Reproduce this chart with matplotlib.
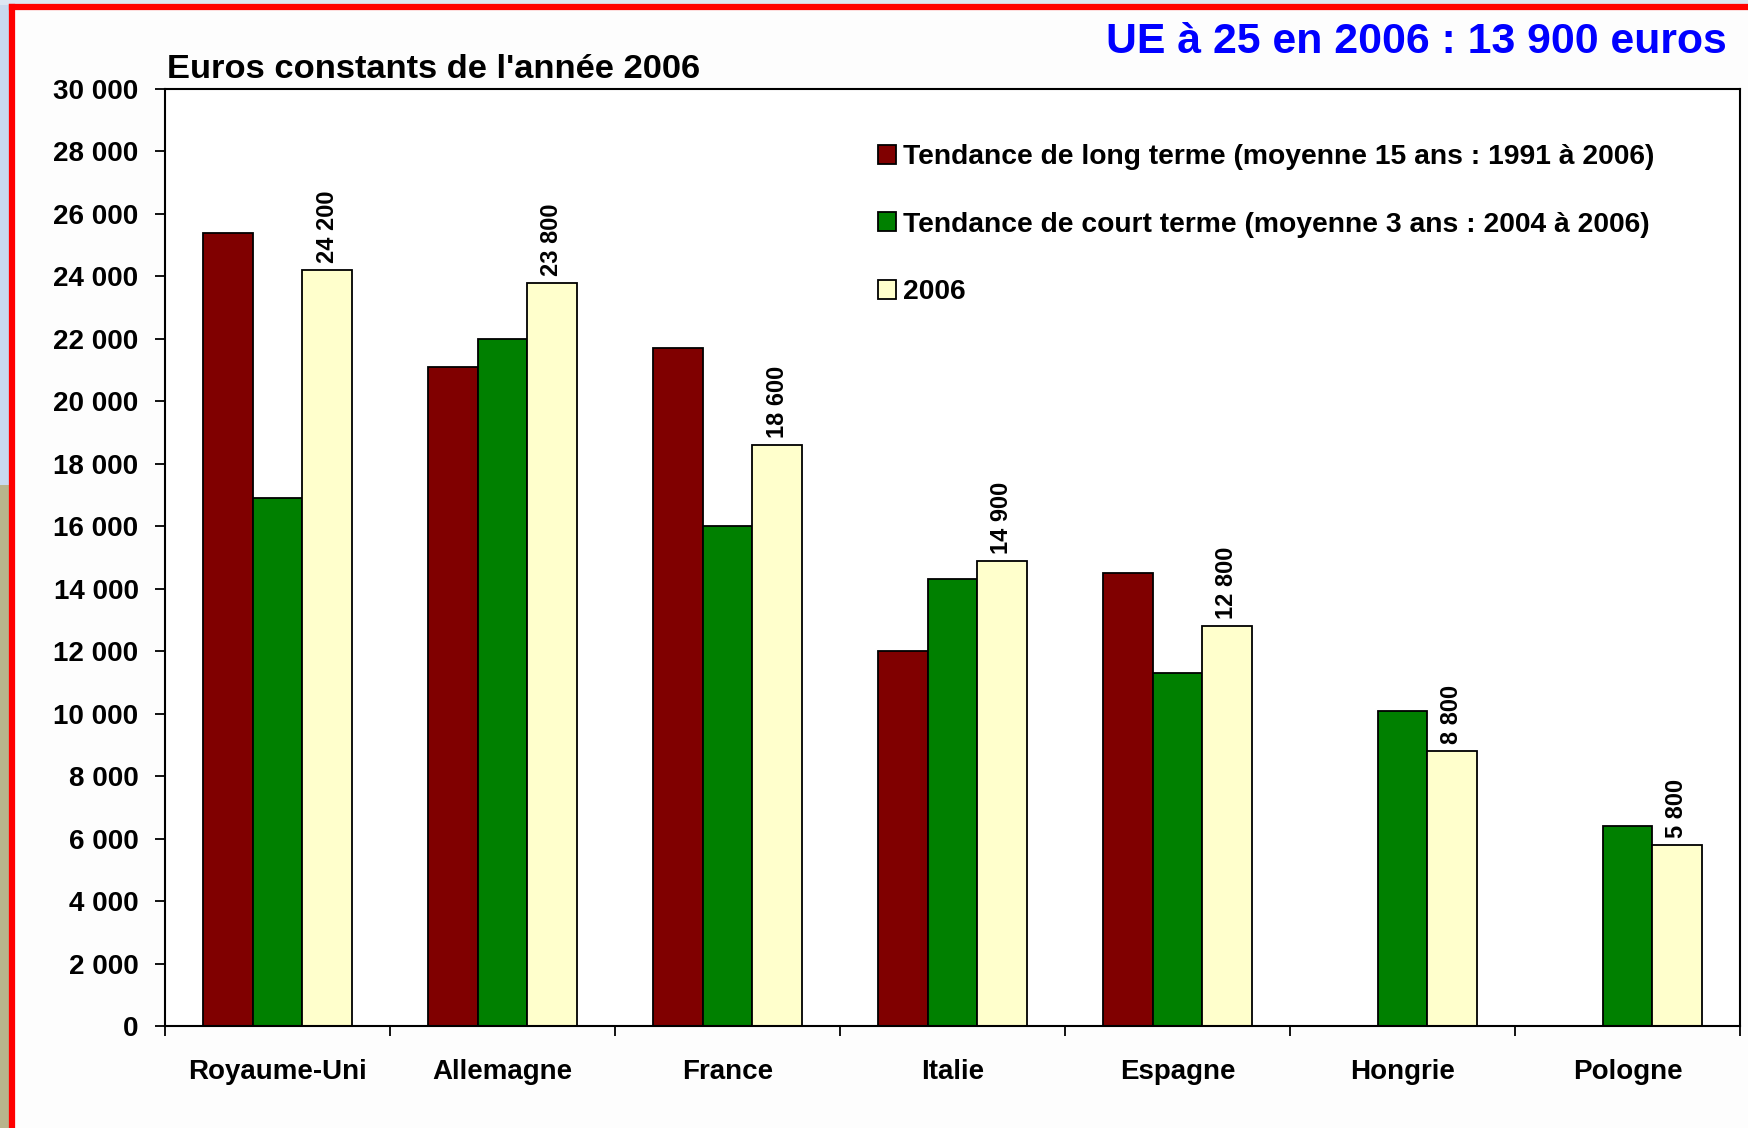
import numpy as np
import matplotlib.pyplot as plt
from matplotlib.patches import Rectangle
from matplotlib.lines import Line2D
from matplotlib.ticker import FuncFormatter

plt.rcParams['font.family'] = ['Liberation Sans', 'DejaVu Sans']

pays = ["Royaume-Uni", "Allemagne", "France", "Italie", "Espagne", "Hongrie", "Pologne"]
long_terme = [25400, 21100, 21700, 12000, 14500, np.nan, np.nan]
court_terme = [16900, 22000, 16000, 14300, 11300, 10100, 6400]
annee_2006 = [24200, 23800, 18600, 14900, 12800, 8800, 5800]
etiquettes = ["24 200", "23 800", "18 600", "14 900", "12 800", "8 800", "5 800"]

noms_series = ["Tendance de long terme (moyenne 15 ans : 1991 à 2006)",
               "Tendance de court terme (moyenne 3 ans : 2004 à 2006)",
               "2006"]
couleurs = ["#800000", "#008000", "#FFFFCC"]

W, H = 1749, 1128
fig = plt.figure(figsize=(W / 100, H / 100), dpi=100)
fig.patch.set_facecolor("#fdfdfd")

# bout de l'image de fond à gauche + cadre rouge
fig.add_artist(Rectangle((0, 0.57), 11 / W, 0.43, transform=fig.transFigure,
                         facecolor="#c9d9ee", edgecolor="none"))
fig.add_artist(Rectangle((0, 0), 11 / W, 0.57, transform=fig.transFigure,
                         facecolor="#b8b48c", edgecolor="none"))
fig.add_artist(Rectangle((0, 1 - 5 / H), 1, 5 / H, transform=fig.transFigure,
                         facecolor="#dde6f2", edgecolor="none"))
fig.add_artist(Line2D([12.5 / W, 12.5 / W], [0, 1 - 6.5 / H], transform=fig.transFigure,
                      color="#ff0000", lw=4.5, solid_capstyle="projecting"))
fig.add_artist(Line2D([12.5 / W, 1], [1 - 6.5 / H, 1 - 6.5 / H], transform=fig.transFigure,
                      color="#ff0000", lw=4.5, solid_capstyle="projecting"))

ax = fig.add_axes([165 / W, 1 - 1026 / H, (1740 - 165) / W, (1026 - 89) / H])
ax.set_facecolor("white")

x = np.arange(len(pays))
w = 0.22
for i, (vals, c) in enumerate(zip([long_terme, court_terme, annee_2006], couleurs)):
    ax.bar(x + (i - 1) * w, vals, w, color=c, edgecolor="black", linewidth=1.3,
           label=noms_series[i])

for xi, v, t in zip(x, annee_2006, etiquettes):
    ax.annotate(t, (xi + w, v), xytext=(0, 5), textcoords="offset points",
                rotation=90, ha="center", va="bottom", fontsize=17, fontweight="bold")

ax.set_xlim(-0.5, len(pays) - 0.5)
ax.set_ylim(0, 30000)
ax.set_yticks(np.arange(0, 30001, 2000))
ax.yaxis.set_major_formatter(FuncFormatter(lambda v, p: f"{int(v):,}".replace(",", " ")))
ax.tick_params(axis="y", length=7, width=1.3, pad=12, labelsize=20)
for lab in ax.get_yticklabels():
    lab.set_fontweight("bold")

ax.set_xticks(np.arange(-0.5, len(pays), 1.0))
ax.set_xticklabels([])
ax.set_xticks(x, minor=True)
ax.set_xticklabels(pays, minor=True, fontsize=20, fontweight="bold")
ax.tick_params(axis="x", which="major", length=7, width=1.3)
ax.tick_params(axis="x", which="minor", length=0, pad=24)

for s in ax.spines.values():
    s.set_linewidth(1.5)

ax.legend(loc="upper left", bbox_to_anchor=(0.4456, 0.953), frameon=False,
          handlelength=0.65, handleheight=0.65, handletextpad=0.22,
          labelspacing=1.47, borderaxespad=0,
          prop={"size": 20.3, "weight": "bold"})

fig.text(167 / W, 1 - 78 / H, "Euros constants de l'année 2006", fontsize=24.8,
         fontweight="bold", va="baseline", ha="left")
fig.text(1727 / W, 1 - 42 / H, "UE à 25 en 2006 : 13 900 euros", fontsize=30.8,
         fontweight="bold", color="#0000ff", va="center", ha="right")

fig.savefig("out.png", dpi=100, facecolor=fig.get_facecolor())
